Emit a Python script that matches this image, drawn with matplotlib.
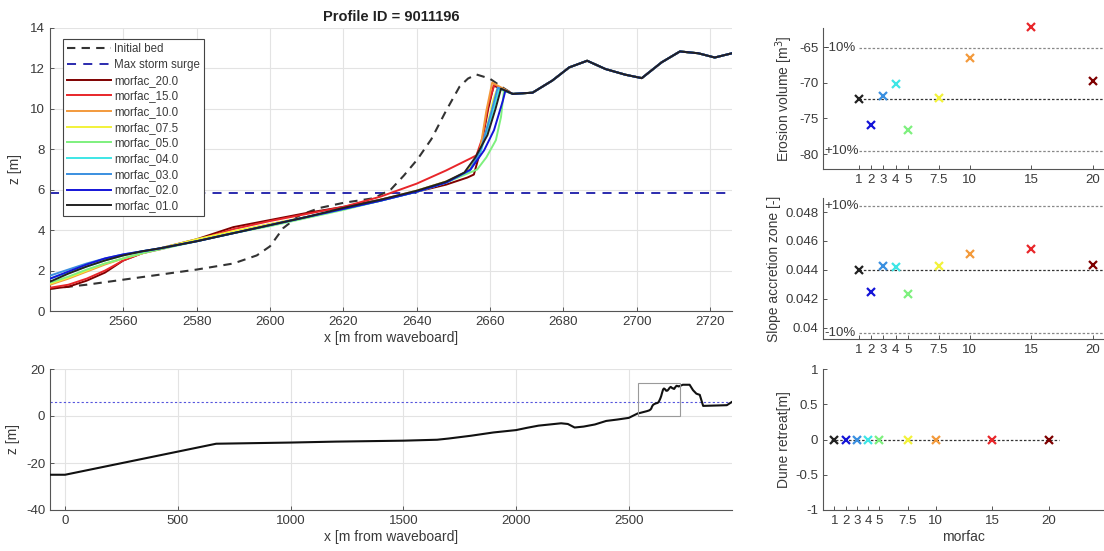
import numpy as np
import matplotlib
matplotlib.use("Agg")
import matplotlib.pyplot as plt
from matplotlib.patches import Rectangle

plt.rcParams['font.family'] = ['Liberation Sans', 'DejaVu Sans']
plt.rcParams['axes.unicode_minus'] = False

# ---------------- data ----------------
profile_id = "9011196"
storm_surge = 5.85

# initial bed in the zoomed dune area
bed_x = [2540, 2550, 2560, 2570, 2580, 2590, 2596.4, 2600, 2603.6, 2608.2, 2613.6,
         2620, 2628.3, 2632.9, 2636.5, 2640.2, 2644, 2648, 2651.7, 2654, 2656.3,
         2659.9, 2663.5, 2666.2]
bed_z = [1.1, 1.3, 1.55, 1.8, 2.05, 2.35, 2.75, 3.2, 4.1, 4.75, 5.1,
         5.35, 5.58, 6.0, 6.7, 7.5, 8.5, 9.9, 11.1, 11.5, 11.7,
         11.5, 11.05, 10.74]

# unchanged dune crest landward of the erosion zone
tail_x = [2671.6, 2677, 2681.6, 2686.5, 2691.5, 2696.9, 2701.4, 2706.8, 2711.8,
          2716.8, 2721.3, 2726]
tail_z = [10.8, 11.4, 12.05, 12.38, 11.97, 11.69, 11.52, 12.3, 12.84,
          12.75, 12.54, 12.75]

# final profiles: shared beach stations + run-specific dune face
beach_x = [2540, 2545, 2550, 2555, 2560, 2565, 2570, 2580, 2590, 2600, 2610,
           2620, 2630, 2640, 2648]

morfac_names = ["morfac_20.0", "morfac_15.0", "morfac_10.0", "morfac_07.5",
                "morfac_05.0", "morfac_04.0", "morfac_03.0", "morfac_02.0",
                "morfac_01.0"]
morfac_colors = ["#7f0000", "#e8262a", "#f39a3c", "#f2f23a", "#7ef07e",
                 "#3ee6e6", "#3a8fe0", "#1414d8", "#222222"]

beach_z = {
    "morfac_20.0": [1.1, 1.2, 1.5, 1.9, 2.5, 2.85, 3.1, 3.55, 4.15, 4.5, 4.85, 5.15, 5.5, 5.9, 6.25],
    "morfac_15.0": [1.15, 1.3, 1.6, 2.0, 2.5, 2.85, 3.05, 3.5, 4.05, 4.45, 4.8, 5.15, 5.65, 6.3, 6.95],
    "morfac_10.0": [1.3, 1.6, 1.95, 2.3, 2.6, 2.85, 3.1, 3.5, 3.9, 4.3, 4.65, 5.05, 5.5, 5.95, 6.4],
    "morfac_07.5": [1.35, 1.65, 2.0, 2.35, 2.6, 2.85, 3.1, 3.55, 3.95, 4.3, 4.65, 5.05, 5.45, 5.95, 6.4],
    "morfac_05.0": [1.4, 1.7, 2.05, 2.35, 2.6, 2.85, 3.05, 3.45, 3.85, 4.2, 4.6, 5.0, 5.45, 5.9, 6.35],
    "morfac_04.0": [1.6, 1.9, 2.2, 2.5, 2.75, 2.95, 3.1, 3.45, 3.85, 4.25, 4.65, 5.05, 5.45, 5.9, 6.35],
    "morfac_03.0": [1.75, 2.05, 2.35, 2.6, 2.8, 2.95, 3.1, 3.45, 3.85, 4.25, 4.65, 5.05, 5.45, 5.9, 6.35],
    "morfac_02.0": [1.6, 1.95, 2.3, 2.6, 2.8, 2.95, 3.1, 3.45, 3.85, 4.25, 4.65, 5.05, 5.45, 5.9, 6.35],
    "morfac_01.0": [1.45, 1.85, 2.2, 2.5, 2.75, 2.95, 3.1, 3.45, 3.85, 4.25, 4.65, 5.1, 5.5, 5.95, 6.4],
}
face_x = {
    "morfac_20.0": [2653.8, 2655.6, 2657.5, 2659.5, 2661.0, 2666.2],
    "morfac_15.0": [2654.7, 2656.3, 2658.0, 2659.5, 2661.2, 2666.2],
    "morfac_10.0": [2653.5, 2656.5, 2657.5, 2659.0, 2660.6, 2666.2],
    "morfac_07.5": [2653.5, 2656.5, 2658.5, 2661.0, 2662.0, 2666.2],
    "morfac_05.0": [2656.5, 2659.0, 2661.6, 2663.0, 2663.8, 2666.2],
    "morfac_04.0": [2654.5, 2657.5, 2660.2, 2662.5, 2666.2],
    "morfac_03.0": [2654.5, 2657.5, 2660.0, 2662.1, 2666.2],
    "morfac_02.0": [2654.7, 2658.4, 2661.1, 2663.5, 2664.2, 2666.2],
    "morfac_01.0": [2653.0, 2656.0, 2659.3, 2661.5, 2663.0, 2666.2],
}
face_z = {
    "morfac_20.0": [6.6, 6.75, 8.0, 10.0, 11.15, 10.74],
    "morfac_15.0": [7.55, 7.7, 8.6, 10.2, 11.2, 10.74],
    "morfac_10.0": [6.85, 7.5, 8.2, 9.9, 11.3, 10.74],
    "morfac_07.5": [6.85, 7.6, 8.6, 10.5, 11.0, 10.74],
    "morfac_05.0": [7.0, 7.6, 8.45, 9.6, 10.9, 10.74],
    "morfac_04.0": [6.95, 7.9, 9.5, 11.0, 10.74],
    "morfac_03.0": [6.95, 8.0, 9.6, 11.05, 10.74],
    "morfac_02.0": [7.0, 7.95, 8.95, 10.4, 10.9, 10.74],
    "morfac_01.0": [6.85, 7.6, 8.7, 10.0, 11.0, 10.74],
}

# full cross-shore profile (offshore part, then dune area, then back-dune)
offshore_x = [-67, 0, 670, 1000, 1200, 1500, 1650, 1700, 1800, 1900, 2000, 2050,
              2100, 2200, 2230, 2260, 2300, 2350, 2400, 2450, 2500]
offshore_z = [-25, -25, -11.8, -11.3, -10.9, -10.5, -10.1, -9.6, -8.4, -7.0, -6.0, -5.0,
              -4.1, -3.1, -3.4, -4.9, -4.5, -3.6, -2.1, -1.5, -0.8]
backdune_x = [2740, 2770, 2785, 2800, 2815, 2830, 2900, 2935, 2958]
backdune_z = [13.3, 13.3, 11.0, 9.5, 9.0, 4.3, 4.5, 4.6, 6.0]

# summary per morfac
morfac_vals = [1, 2, 3, 4, 5, 7.5, 10, 15, 20]
morfac_ticklabels = ["1", "2", "3", "4", "5", "7.5", "10", "15", "20"]
summary_colors = ["#222222", "#1414d8", "#3a8fe0", "#3ee6e6", "#7ef07e",
                  "#f2f23a", "#f39a3c", "#e8262a", "#7f0000"]
erosion_volume = [-72.3, -75.9, -71.9, -70.2, -76.6, -72.1, -66.5, -62.2, -69.8]
slope_accretion = [0.04402, 0.0425, 0.04428, 0.04423, 0.0423, 0.04426, 0.04512, 0.04547, 0.04436]
dune_retreat = [0, 0, 0, 0, 0, 0, 0, 0, 0]

# ---------------- styling ----------------
TXT = "#3a3a3a"
GRID = "#e3e3e3"
SPINE = "#555555"


def style_axes(ax, grid=True):
    for s in ("top", "right"):
        ax.spines[s].set_visible(False)
    for s in ("left", "bottom"):
        ax.spines[s].set_color(SPINE)
        ax.spines[s].set_linewidth(0.8)
    ax.tick_params(direction="in", length=3, width=0.7, colors=SPINE,
                   labelcolor=TXT, labelsize=9.5)
    if grid:
        ax.grid(True, color=GRID, linewidth=0.8)
        ax.set_axisbelow(True)


W, H = 1104, 551
fig = plt.figure(figsize=(W / 100, H / 100), dpi=100)


def px_axes(left, top, right, bottom):
    return fig.add_axes([left / W, 1 - bottom / H, (right - left) / W, (bottom - top) / H])


# ---------- main zoomed profile ----------
ax = px_axes(50, 28, 732, 311)
style_axes(ax)
ax.plot(bed_x + tail_x, bed_z + tail_z, color="#333333", lw=1.5,
        dashes=(4, 3), label="Initial bed", zorder=3)
ax.axhline(storm_surge, color="#1a1aa8", lw=1.3, dashes=(5, 4),
           label="Max storm surge", zorder=2)
for name, col in zip(morfac_names, morfac_colors):
    xs = beach_x + face_x[name] + tail_x
    zs = beach_z[name] + face_z[name] + tail_z
    ax.plot(xs, zs, color=col, lw=1.4, label=name, zorder=4)
ax.set_xlim(2540, 2726)
ax.set_ylim(0, 14)
ax.set_xticks(np.arange(2560, 2721, 20))
ax.set_yticks(np.arange(0, 15, 2))
ax.set_xlabel("x [m from waveboard]", fontsize=10, color=TXT, labelpad=2)
ax.set_ylabel("z [m]", fontsize=10, color=TXT, labelpad=6)
ax.set_title("Profile ID = " + profile_id, fontsize=10.5, fontweight="bold",
             color="#222222", pad=5)
leg = ax.legend(loc="upper left", bbox_to_anchor=(0.019, 0.96), borderaxespad=0,
                fontsize=8.3, handlelength=3.8, labelspacing=0.32, borderpad=0.35,
                handletextpad=0.3, fancybox=False, framealpha=1)
leg.get_frame().set_edgecolor("#444444")
leg.get_frame().set_linewidth(0.8)
for t in leg.get_texts():
    t.set_color(TXT)

# ---------- full profile ----------
ax2 = px_axes(50, 369, 732, 510)
style_axes(ax2)
full_x = offshore_x + bed_x + tail_x + backdune_x
full_z = offshore_z + bed_z + tail_z + backdune_z
ax2.plot(full_x, full_z, color="#111111", lw=1.5, zorder=3)
ax2.axhline(storm_surge, color="#5555dd", lw=0.8, dashes=(2, 2), zorder=2)
ax2.add_patch(Rectangle((2540, 0), 2726 - 2540, 14, fill=False,
                        edgecolor="#9a9a9a", lw=0.8, zorder=4))
ax2.set_xlim(-67, 2958)
ax2.set_ylim(-40, 20)
ax2.set_xticks(np.arange(0, 2501, 500))
ax2.set_yticks([-40, -20, 0, 20])
ax2.set_xlabel("x [m from waveboard]", fontsize=10, color=TXT, labelpad=2)
ax2.set_ylabel("z [m]", fontsize=10, color=TXT, labelpad=4)


def summary_panel(ax, values, ylim, yticks, yticklabels, ylabel, xlim,
                  upper_tag, lower_tag):
    style_axes(ax, grid=False)
    ref = values[0]
    ax.set_xlim(*xlim)
    ax.set_ylim(*ylim)
    xr = [morfac_vals[0], xlim[1]]
    ax.plot(xr, [ref, ref], color="#333333", lw=0.9, dashes=(2, 1.5))
    band = sorted([ref * 0.9, ref * 1.1])
    for yb, tag in zip(band, (lower_tag, upper_tag)):
        ax.plot(xr, [yb, yb], color="#888888", lw=0.9, dashes=(2, 1.5))
        ax.text(xlim[0] + 0.15, yb, tag, fontsize=9.5, color=TXT,
                va="center", ha="left")
    for xv, yv, c in zip(morfac_vals, values, summary_colors):
        ax.plot(xv, yv, marker="x", ms=5.5, mew=1.6, color=c, zorder=4,
                clip_on=False)
    ax.set_xticks(morfac_vals)
    ax.set_xticklabels(morfac_ticklabels)
    ax.set_yticks(yticks)
    ax.set_yticklabels(yticklabels)
    ax.set_ylabel(ylabel, fontsize=10, color=TXT, labelpad=3)


ax3 = px_axes(823, 28, 1104, 169)
summary_panel(ax3, erosion_volume, (-82.1, -62.3), [-80, -75, -70, -65],
              ["-80", "-75", "-70", "-65"], "Erosion volume [m$^3$]", (-1.9, 20.9),
              upper_tag="-10%", lower_tag="+10%")

ax4 = px_axes(823, 198, 1104, 339)
summary_panel(ax4, slope_accretion, (0.03922, 0.04897),
              [0.040, 0.042, 0.044, 0.046, 0.048],
              ["0.04", "0.042", "0.044", "0.046", "0.048"],
              "Slope accretion zone [-]", (-1.9, 20.9),
              upper_tag="+10%", lower_tag="-10%")

ax5 = px_axes(823, 369, 1104, 510)
style_axes(ax5, grid=False)
ax5.set_xlim(0, 24.9)
ax5.set_ylim(-1, 1)
ax5.plot([0.7, 20.9], [dune_retreat[0], dune_retreat[0]], color="#333333",
         lw=0.9, dashes=(2, 1.5), zorder=2)
for xv, yv, c in zip(morfac_vals, dune_retreat, summary_colors):
    ax5.plot(xv, yv, marker="x", ms=5.5, mew=1.6, color=c, zorder=4)
ax5.set_xticks(morfac_vals)
ax5.set_xticklabels(morfac_ticklabels)
ax5.set_yticks([-1, -0.5, 0, 0.5, 1])
ax5.set_yticklabels(["-1", "-0.5", "0", "0.5", "1"])
ax5.set_ylabel("Dune retreat[m]", fontsize=10, color=TXT, labelpad=3)
ax5.set_xlabel("morfac", fontsize=10, color=TXT, labelpad=2)

fig.savefig("out.png", dpi=100)
